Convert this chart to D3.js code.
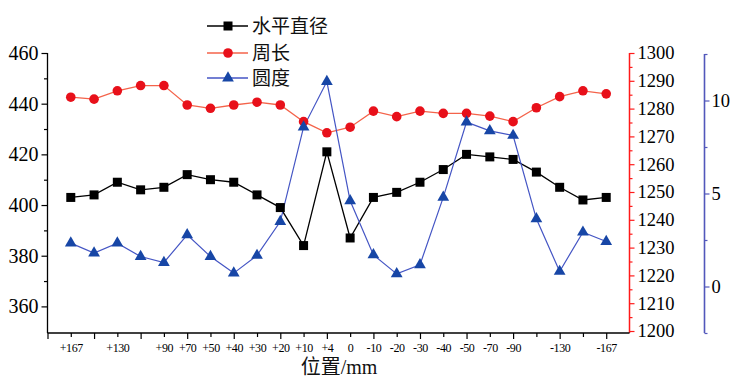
<!DOCTYPE html>
<html>
<head>
<meta charset="utf-8">
<script src="https://cdn.jsdelivr.net/npm/d3@7/dist/d3.min.js"></script>
<style>
  html, body { margin: 0; padding: 0; background: #fff; }
  svg { display: block; }
</style>
</head>
<body>
<svg id="chart" width="739" height="385"></svg>
<script>
// ---- data ----
const categories = ["+167","","+130","","+90","+70","+50","+40","+30","+20","+10","+4","0",
                    "-10","-20","-30","-40","-50","-70","-90","","-130","","-167"];
const diameter = [403,404,409,406,407,412,410,409,404,399,384,421,387,
                  403,405,409,414,420,419,418,413,407,402,403];
const perimeter = [1284.1,1283.4,1286.4,1288.3,1288.3,1281.3,1280.1,1281.3,1282.3,1281.3,1275.3,1271.3,1273.3,
                   1279.1,1277.1,1279.1,1278.3,1278.3,1277.3,1275.3,1280.3,1284.3,1286.4,1285.3];
const roundness = [2.33,1.80,2.33,1.61,1.29,2.78,1.61,0.72,1.67,3.49,8.57,11.02,4.61,
                   1.70,0.68,1.17,4.79,8.84,8.37,8.12,3.64,0.81,2.92,2.42];
const seriesNames = ["水平直径","周长","圆度"];
const leftTicks = [360,380,400,420,440,460];
const redTicks = [1200,1210,1220,1230,1240,1250,1260,1270,1280,1290,1300];
const blueTicks = [0,5,10];
const xTitle = "位置/mm";

// ---- layout ----
const SERIF = "'Liberation Serif', 'Times New Roman', 'Noto Sans CJK SC', serif";
const svg = d3.select("#chart");
const x0 = 47.5, x1 = 629.5, yTop = 53, yBot = 333;
const blueX = 704.5;

const x = d3.scaleLinear().domain([0, 25]).range([x0, x1]);
const yL = d3.scaleLinear().domain([349.5, 460]).range([yBot, yTop]);
const yR = d3.scaleLinear().domain([1200, 1300]).range([yBot - 2, yTop]);
const yB = d3.scaleLinear().domain([-2.5, 12.5]).range([yBot, yTop + 1]);

const C = {
  black: "#000",
  redLine: "#f4634a",
  redMark: "#e8101a",
  blueLine: "#4455c4",
  blueMark: "#1746a6",
  redAxis: "#ff1a1a",
  blueAxis: "#5258bb"
};

function styleAxis(g, color, fs) {
  g.attr("font-family", null).attr("font-size", null);
  g.select(".domain").remove();
  g.selectAll("line").attr("stroke", color).attr("stroke-width", 1.2);
  g.selectAll("text").attr("fill", "#000")
    .style("font-size", fs + "px").style("font-family", SERIF);
}
const fmt = d3.format("d");

// left axis
const gL = svg.append("g").attr("transform", `translate(${x0},0)`);
gL.append("line").attr("x1", 0).attr("x2", 0).attr("y1", yTop).attr("y2", yBot)
  .attr("stroke", "#000").attr("stroke-width", 1.3);
gL.append("g").call(d3.axisLeft(yL).tickValues(d3.range(370, 460, 20)).tickSize(3.5).tickFormat(""))
  .call(g => styleAxis(g, "#000", 19));
gL.append("g").call(d3.axisLeft(yL).tickValues(leftTicks).tickSize(6).tickPadding(3).tickFormat(fmt))
  .call(g => styleAxis(g, "#000", 20));

// red right axis
const gR = svg.append("g").attr("transform", `translate(${x1},0)`);
gR.append("line").attr("x1", 0).attr("x2", 0).attr("y1", yTop).attr("y2", yBot)
  .attr("stroke", C.redAxis).attr("stroke-width", 1.5);
gR.append("g").call(d3.axisRight(yR).tickValues(d3.range(1205, 1300, 10)).tickSize(3).tickFormat(""))
  .call(g => styleAxis(g, C.redAxis, 18));
gR.append("g").call(d3.axisRight(yR).tickValues(redTicks).tickSize(5).tickPadding(3).tickFormat(fmt))
  .call(g => styleAxis(g, C.redAxis, 18.5));

// blue right axis
const gB = svg.append("g").attr("transform", `translate(${blueX},0)`);
gB.append("line").attr("x1", 0).attr("x2", 0).attr("y1", yB(12.5)).attr("y2", yB(-2.5))
  .attr("stroke", C.blueAxis).attr("stroke-width", 1.6);
gB.append("g").call(d3.axisRight(yB).tickValues([-2.5, 2.5, 7.5, 12.5]).tickSize(3).tickFormat(""))
  .call(g => styleAxis(g, C.blueAxis, 18));
gB.append("g").call(d3.axisRight(yB).tickValues(blueTicks).tickSize(5).tickPadding(2).tickFormat(fmt))
  .call(g => styleAxis(g, C.blueAxis, 18.5));

// bottom axis
const gX = svg.append("g").attr("transform", `translate(0,${yBot})`);
gX.append("line").attr("x1", x0).attr("x2", x1).attr("y1", 0).attr("y2", 0)
  .attr("stroke", "#000").attr("stroke-width", 1.4);
gX.append("g").call(d3.axisBottom(x).tickValues(d3.range(1, 25, 2)).tickSize(4).tickFormat(""))
  .call(g => styleAxis(g, "#000", 12));
gX.append("g").call(d3.axisBottom(x).tickValues(d3.range(0, 25, 2)).tickSize(6).tickFormat(""))
  .call(g => styleAxis(g, "#000", 12));
gX.append("g").call(d3.axisBottom(x).tickValues(d3.range(1, 25)).tickSize(0).tickPadding(10)
    .tickFormat(d => categories[d - 1]))
  .call(g => styleAxis(g, "#000", 12))
  .call(g => g.selectAll("text").style("letter-spacing", "-0.4px"));

svg.append("text").attr("x", 339).attr("y", 374).attr("text-anchor", "middle")
  .style("font-size", "20px").style("font-family", SERIF)
  .attr("fill", "#111").text(xTitle);

// series
const idx = d3.range(categories.length);
const lineGen = (ys, arr) => d3.line().x(i => x(i + 1)).y(i => ys(arr[i]));

svg.append("path").datum(idx).attr("d", lineGen(yL, diameter))
  .attr("fill", "none").attr("stroke", C.black).attr("stroke-width", 1.3);
svg.append("path").datum(idx).attr("d", lineGen(yR, perimeter))
  .attr("fill", "none").attr("stroke", C.redLine).attr("stroke-width", 1.3);
svg.append("path").datum(idx).attr("d", lineGen(yB, roundness))
  .attr("fill", "none").attr("stroke", C.blueLine).attr("stroke-width", 1.2);

const sq = 9;
svg.append("g").selectAll("rect").data(idx).join("rect")
  .attr("x", i => x(i + 1) - sq / 2).attr("y", i => yL(diameter[i]) - sq / 2)
  .attr("width", sq).attr("height", sq).attr("fill", "#000");
svg.append("g").selectAll("circle").data(idx).join("circle")
  .attr("cx", i => x(i + 1)).attr("cy", i => yR(perimeter[i])).attr("r", 4.8)
  .attr("fill", C.redMark);
const tri = d3.symbol().type(d3.symbolTriangle).size(60);
svg.append("g").selectAll("path").data(idx).join("path")
  .attr("transform", i => `translate(${x(i + 1)},${yB(roundness[i])})`)
  .attr("d", tri).attr("fill", C.blueMark);

// legend
const legend = [
  { name: seriesNames[0], line: "#000", mark: "sq", color: "#000", y: 26 },
  { name: seriesNames[1], line: C.redLine, mark: "ci", color: C.redMark, y: 53 },
  { name: seriesNames[2], line: C.blueLine, mark: "tr", color: C.blueMark, y: 78 }
];
const lg = svg.append("g");
legend.forEach(d => {
  lg.append("line").attr("x1", 207).attr("x2", 248).attr("y1", d.y).attr("y2", d.y)
    .attr("stroke", d.line).attr("stroke-width", 1.3);
  if (d.mark === "sq") lg.append("rect").attr("x", 228 - sq / 2).attr("y", d.y - sq / 2)
      .attr("width", sq).attr("height", sq).attr("fill", d.color);
  if (d.mark === "ci") lg.append("circle").attr("cx", 228).attr("cy", d.y).attr("r", 4.8).attr("fill", d.color);
  if (d.mark === "tr") lg.append("path").attr("transform", `translate(228,${d.y})`).attr("d", tri).attr("fill", d.color);
  lg.append("text").attr("x", 252).attr("y", d.y).attr("dy", "0.36em")
    .style("font-size", "19px").style("font-family", "'Noto Sans CJK SC'")
    .attr("fill", "#111").text(d.name);
});
</script>
</body>
</html>
